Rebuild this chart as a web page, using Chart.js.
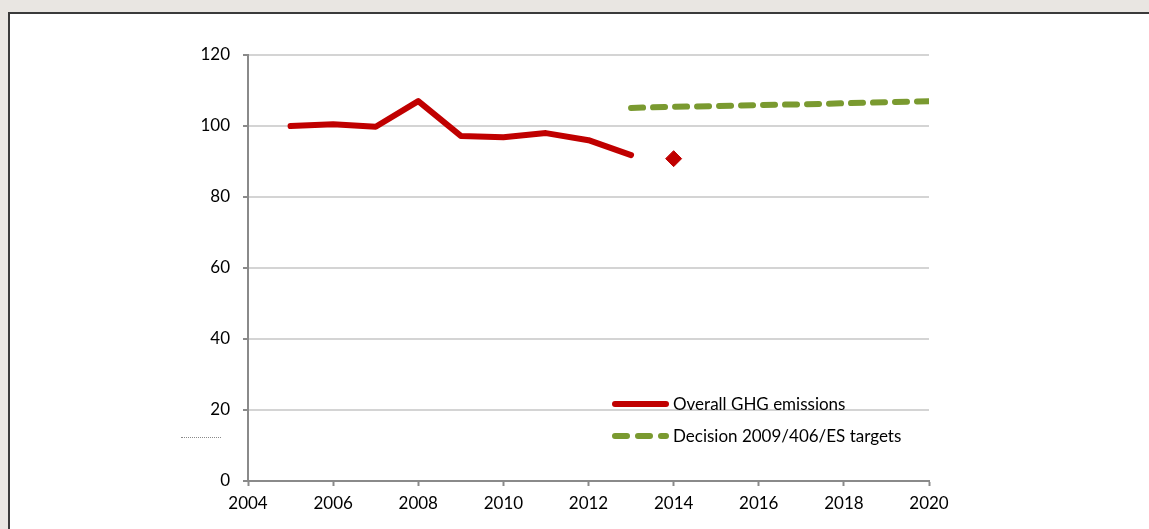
<!DOCTYPE html>
<html>
<head>
<meta charset="utf-8">
<script src="https://cdn.jsdelivr.net/npm/chart.js@4"></script>
<style>
  html, body { margin: 0; padding: 0; }
  body { width: 1149px; height: 529px; background: #e9e6e2; position: relative; overflow: hidden; }
  #panel { position: absolute; left: 8px; top: 12px; width: 1200px; height: 600px; background: #fff; border-left: 2px solid #3a3a3a; border-top: 2px solid #3a3a3a; }
  #wrap { position: absolute; left: 0; top: 0; width: 1149px; height: 529px; }
  #stray { position: absolute; left: 181px; top: 437px; width: 40px; border-top: 1px dotted #8a8a8a; }
</style>
</head>
<body>
<div id="panel"></div>
<div id="stray"></div>
<div id="wrap"><canvas id="ghg" width="1149" height="529"></canvas></div>
<script>
// years and values (index 2005 = 100)
const emissionYears = [2005, 2006, 2007, 2008, 2009, 2010, 2011, 2012, 2013];
const emissionValues = [100, 100.5, 99.8, 107, 97.2, 96.8, 98, 96, 91.8];
const proxyYears = [2014];
const proxyValues = [90.8];
const targetYears = [2013, 2014, 2015, 2016, 2017, 2018, 2019, 2020];
const targetValues = [105.1, 105.4, 105.6, 105.9, 106.1, 106.4, 106.7, 107];
const legendLabels = ['Overall GHG emissions', 'Decision 2009/406/ES targets'];

const RED = '#c00000';
const GREEN = '#7a9a30';
const FONT = "'Lato', 'Open Sans', sans-serif";

function pts(xs, ys) {
    return xs.map(function (x, i) { return { x: x, y: ys[i] }; });
}

// legend drawn inside the plot, like the original
const insideLegend = {
    id: 'insideLegend',
    afterDraw: function (chart) {
        const ctx = chart.ctx;
        const rows = [
            { y: 404, color: RED, dash: [], w: 6 },
            { y: 436, color: GREEN, dash: [12, 11], w: 6 }
        ];
        ctx.save();
        rows.forEach(function (r, i) {
            ctx.beginPath();
            ctx.strokeStyle = r.color;
            ctx.lineWidth = r.w;
            ctx.lineCap = 'round';
            ctx.setLineDash(r.dash);
            ctx.moveTo(615, r.y);
            ctx.lineTo(666, r.y);
            ctx.stroke();
            ctx.setLineDash([]);
            ctx.fillStyle = '#000';
            ctx.font = '17px ' + FONT;
            ctx.textBaseline = 'middle';
            ctx.fillText(legendLabels[i], 673, r.y + 1);
        });
        ctx.restore();
    }
};

new Chart(document.getElementById('ghg').getContext('2d'), {
    type: 'line',
    data: {
        datasets: [{
            label: legendLabels[0],
            data: pts(emissionYears, emissionValues),
            borderColor: RED,
            borderWidth: 6,
            borderJoinStyle: 'round',
            borderCapStyle: 'round',
            pointRadius: 0,
            tension: 0
        },
        {
            label: 'proxy',
            data: pts(proxyYears, proxyValues),
            showLine: false,
            pointStyle: 'rectRot',
            pointRadius: 8,
            backgroundColor: RED,
            borderColor: RED,
            borderWidth: 1
        },
        {
            label: legendLabels[1],
            data: pts(targetYears, targetValues),
            borderColor: GREEN,
            borderWidth: 6,
            borderDash: [12, 10],
            borderCapStyle: 'round',
            pointRadius: 0,
            tension: 0
        }]
    },
    options: {
        responsive: false,
        animation: false,
        layout: { padding: { left: 0, top: 55, right: 220, bottom: 0 } },
        plugins: {
            legend: { display: false },
            tooltip: { enabled: false }
        },
        scales: {
            x: {
                type: 'linear',
                min: 2004,
                max: 2020,
                border: { color: '#8a8a8a', width: 2 },
                grid: { drawOnChartArea: false, tickLength: 5, tickColor: '#8a8a8a', tickWidth: 2 },
                ticks: {
                    stepSize: 2,
                    padding: 7,
                    color: '#000',
                    font: { family: FONT, size: 17 },
                    maxRotation: 0,
                    callback: function (v) { return String(v); }
                },
                afterFit: function (s) { s.height = 48; }
            },
            y: {
                min: 0,
                max: 120,
                border: { color: '#8a8a8a', width: 2 },
                grid: { color: '#d4d4d4', lineWidth: 2, tickLength: 5, tickColor: '#8a8a8a', tickWidth: 2 },
                ticks: {
                    stepSize: 20,
                    padding: 13,
                    color: '#000',
                    font: { family: FONT, size: 17 }
                },
                afterFit: function (s) { s.width = 248; }
            }
        }
    },
    plugins: [insideLegend]
});
</script>
</body>
</html>
